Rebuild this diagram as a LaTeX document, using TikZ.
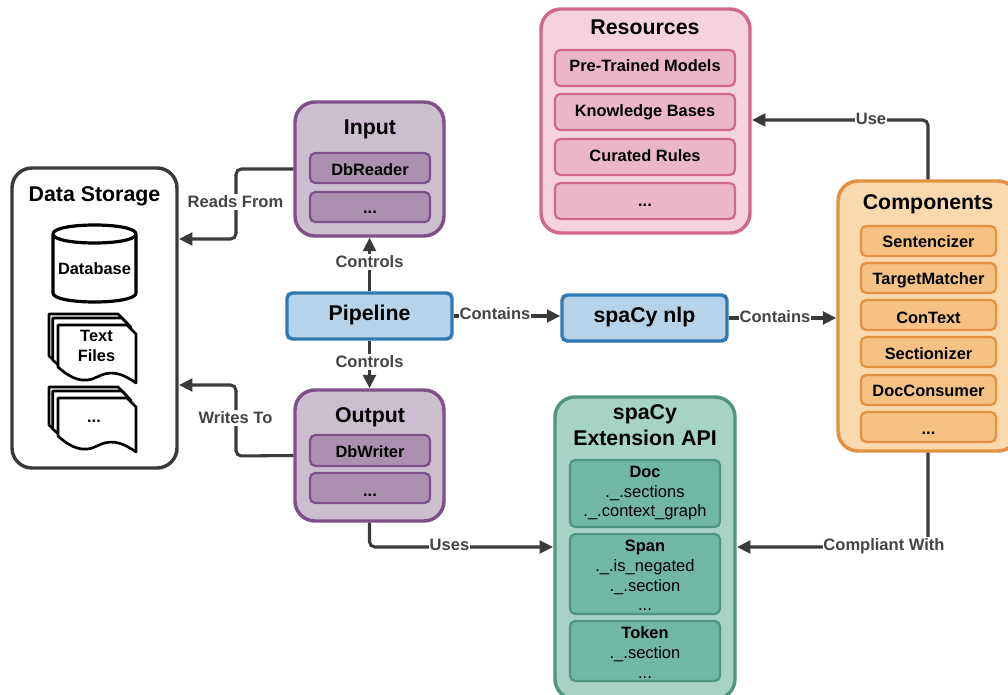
\documentclass[tikz,border=0pt]{standalone}
\usepackage{fontspec}
\setmainfont{Liberation Sans}
\usetikzlibrary{arrows.meta}
\definecolor{lnk}{HTML}{3A3A3A}
\definecolor{lbl}{HTML}{444444}
\definecolor{purD}{HTML}{7F4F8A}\definecolor{purO}{HTML}{CDBDD1}\definecolor{purI}{HTML}{AC8FB1}
\definecolor{bluD}{HTML}{2F79B5}\definecolor{bluF}{HTML}{B7D3EA}
\definecolor{pnkD}{HTML}{D2688F}\definecolor{pnkO}{HTML}{F4D3DF}\definecolor{pnkI}{HTML}{EBB6C7}
\definecolor{orgD}{HTML}{E3913F}\definecolor{orgO}{HTML}{FAD9AE}\definecolor{orgI}{HTML}{F6C284}
\definecolor{grnD}{HTML}{4F957F}\definecolor{grnO}{HTML}{A7D3C6}\definecolor{grnI}{HTML}{72B6A5}
\newcommand{\fs}[1]{\fontsize{#1}{#1}\selectfont}
\newcommand{\threedots}{...}
\tikzset{x=0.75pt,y=-0.75pt,
 sized/.style 2 args={minimum width=#1*0.75pt,minimum height=#2*0.75pt},
 outerbox/.style={draw=#1,line width=2.6pt,rounded corners=15pt,inner sep=0pt,anchor=center},
 innerbox/.style={draw=#1,line width=1.7pt,rounded corners=4pt,inner sep=0pt,anchor=center},
 flatbox/.style={draw=bluD,fill=bluF,line width=2.6pt,rounded corners=4pt,inner sep=0pt,anchor=center},
 capfix/.style={inner sep=0pt,anchor=center,text height=#1,text depth=0pt},
 ttl/.style={capfix=11.5pt,font=\fs{16}\bfseries,text=black},
 itm/.style={capfix=8.9pt,font=\fs{12.3}\bfseries,text=black},
 reg/.style={capfix=8.9pt,font=\fs{12.4},text=black},
 lab/.style={font=\fs{12.4}\bfseries,text=lbl,fill=white,inner xsep=0.5pt,inner ysep=1.5pt,anchor=center,text height=8.9pt,text depth=0pt},
 conn/.style={draw=lnk,line width=2.3pt,rounded corners=4pt,-{Triangle[length=10pt,width=9.5pt]}},
 docsheet/.style={draw=black,line width=2pt,fill=white,line join=round},
}
\newcommand{\docstack}[2]{%
 \begin{scope}[yshift=#1*-0.75pt]
 \foreach \dx/\dy in {0/0,3.7/4,9/11}{
  \path[docsheet] (49+\dx,314+\dy) -- (118+\dx,314+\dy) -- (127+\dx,323+\dy) -- (127+\dx,372+\dy-#2)
   .. controls (110+\dx,360+\dy-#2) and (100+\dx,360+\dy-#2) .. (88+\dx,366+\dy-#2)
   .. controls (75+\dx,373+\dy-#2) and (62+\dx,368+\dy-#2) .. (49+\dx,356+\dy-#2) -- cycle;
 }
 \end{scope}}
\begin{document}
\begin{tikzpicture}
\useasboundingbox (0,0) rectangle (1008,695);
\clip (0,0) rectangle (1008,695);
% Data storage
\node[outerbox=lnk,fill=white,sized={165}{300}] (store) at (94.5,318) {};
\node[ttl] (storeT) at (94.5,194) {Data Storage};
\path[draw=black,line width=2.4pt,fill=white] (53,234) -- (53,293) .. controls (53,305) and (136,305) .. (136,293) -- (136,234)
  .. controls (136,222) and (53,222) .. (53,234) .. controls (53,246) and (136,246) .. (136,234);
\node[itm] (dbT) at (94.5,269) {Database};
\docstack{0}{0}
\node[itm] (tf1) at (96.5,336) {Text};
\node[itm] (tf2) at (96.5,356) {Files};
\docstack{73}{4}
\node[itm] (tf3) at (94,417) {...};
% Input
\node[outerbox=purD,fill=purO,sized={149}{134}] (input) at (369.5,169) {};
\node[ttl] (inputT) at (370,127) {Input};
\node[innerbox=purD,fill=purI,sized={120}{30}] (dbr) at (370,168) {};
\node[itm] at (370,170) {DbReader};
\node[innerbox=purD,fill=purI,sized={120}{30}] (idots) at (370,207) {};
\node[itm] at (370,208) {...};
% Output
\node[outerbox=purD,fill=purO,sized={149}{131}] (output) at (369.5,455.5) {};
\node[ttl] (outputT) at (370,415) {Output};
\node[innerbox=purD,fill=purI,sized={120}{31}] (dbw) at (370,450.5) {};
\node[itm] at (370,452) {DbWriter};
\node[innerbox=purD,fill=purI,sized={120}{30}] (odots) at (370,488) {};
\node[itm] at (370,491) {...};
% Pipeline, nlp
\node[flatbox,sized={165}{46}] (pipe) at (369.5,316) {};
\node[ttl] at (369.5,312.5) {Pipeline};
\node[flatbox,sized={165}{46}] (nlp) at (644.5,318) {};
\node[ttl] at (644.5,314.5) {spaCy nlp};
% Resources
\node[outerbox=pnkD,fill=pnkO,sized={209}{224}] (res) at (645.5,121) {};
\node[ttl] (resT) at (645,27) {Resources};
\foreach \n/\y/\ty/\t in {r1/68/66/Pre-Trained Models,r2/112/111/Knowledge Bases,r3/157/156/Curated Rules,r4/201/201/\threedots}{
 \node[innerbox=pnkD,fill=pnkI,sized={180}{36}] (\n) at (645,\y) {};
 \node[itm] at (645,\ty) {\t};
}
% Components
\node[outerbox=orgD,fill=orgO,sized={180}{270}] (comp) at (928,316) {};
\node[ttl] (compT) at (928,202) {Components};
\foreach \n/\y/\ty/\t in {c1/241/242/Sentencizer,c2/278/279/TargetMatcher,c3/315/317.5/ConText,c4/352/354/Sectionizer,c5/390/391/DocConsumer,c6/427/429/\threedots}{
 \node[innerbox=orgD,fill=orgI,sized={135}{30}] (\n) at (928.5,\y) {};
 \node[itm] at (928.5,\ty) {\t};
}
% API
\node[outerbox=grnD,fill=grnO,sized={180}{302}] (api) at (645,548) {};
\node[ttl] (apiT1) at (645,412) {spaCy};
\node[ttl] (apiT2) at (645,437.5) {Extension API};
\node[innerbox=grnD,fill=grnI,sized={150}{67}] (doc) at (645,493.5) {};
\node[innerbox=grnD,fill=grnI,sized={150}{80}] (span) at (645,574) {};
\node[innerbox=grnD,fill=grnI,sized={150}{60}] (tok) at (645,651) {};
\node[itm] at (645,471.5) {Doc};
\node[reg] at (645,491.5) {.\_.sections};
\node[reg] at (645,511) {.\_.context\_graph};
\node[itm] at (645,546) {Span};
\node[reg] at (645,566) {.\_.is\_negated};
\node[reg] at (645,586) {.\_.section};
\node[reg] at (645,605) {...};
\node[itm] at (645,633) {Token};
\node[reg] at (645,653) {.\_.section};
\node[reg] at (645,673) {...};
% Connectors
\coordinate (readIn) at (179,239);
\coordinate (writeIn) at (179,385);
\draw[conn] (input.west) -- (236,169) -- (236,239) -- (readIn);
\draw[conn] (output.west) -- (236,456) -- (236,385) -- (writeIn);
\draw[conn] (pipe.north) -- (input.south);
\draw[conn] (pipe.south) -- (output.north);
\draw[conn] (pipe.east) -- (nlp.west |- pipe.east);
\draw[conn] (nlp.east) -- (comp.west |- nlp.east);
\coordinate (useIn) at (752,120);
\draw[conn] (comp.north) -- (928,120) -- (useIn);
\coordinate (compIn) at (737,547);
\draw[conn] (comp.south) -- (928,547) -- (compIn);
\coordinate (usesIn) at (553,547);
\draw[conn] (output.south) -- (369.5,547) -- (usesIn);
% Labels
\node[lab] at (235.5,202) {Reads From};
\node[lab] at (235.5,418) {Writes To};
\node[lab] at (369.5,262) {Controls};
\node[lab] at (369.5,362) {Controls};
\node[lab] at (495,314) {Contains};
\node[lab] at (775,316.5) {Contains};
\node[lab] at (871,118.5) {Use};
\node[lab] at (884,545) {Compliant With};
\node[lab] at (449.5,545) {Uses};
\end{tikzpicture}
\end{document}
